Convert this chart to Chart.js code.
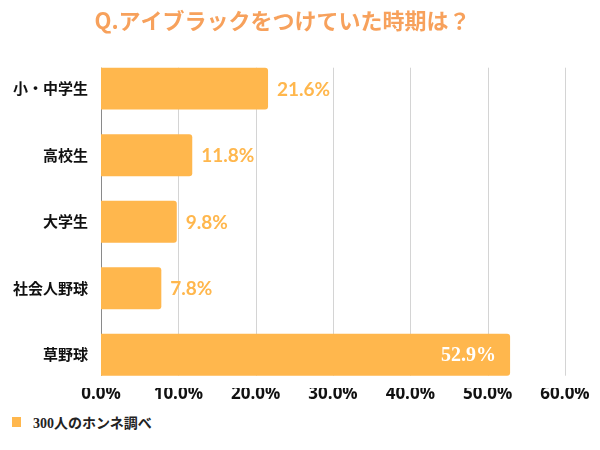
<!DOCTYPE html>
<html>
<head>
<meta charset="utf-8">
<script src="https://cdn.jsdelivr.net/npm/chart.js@4"></script>
<style>
  body { margin: 0; background: #fff; }
  #wrap { position: relative; width: 600px; height: 450px; }
  #note {
    position: absolute; left: 12px; top: 412px;
    font: bold 14px "Liberation Serif", "Noto Sans CJK JP", serif; color: #222;
    display: flex; align-items: center;
  }
  #note .icon { width: 9px; height: 10px; background: #ffb74d; margin-right: 12px; }
</style>
</head>
<body>
<div id="wrap">
  <canvas id="barChart" width="600" height="410"></canvas>
  <div id="note"><span class="icon"></span>300人のホンネ調べ</div>
</div>
<script>
const categories = ["小・中学生", "高校生", "大学生", "社会人野球", "草野球"];
const percents = [21.6, 11.8, 9.8, 7.8, 52.9];
const tickValues = [0, 10, 20, 30, 40, 50, 60];

const barColor = "#ffb74d";
const ctx = document.getElementById("barChart").getContext("2d");

// vertical grid lines only between the top of the first bar and the bottom of the last one
const shortGrid = {
    id: "shortGrid",
    beforeDatasetsDraw(chart) {
        const c = chart.ctx;
        const bars = chart.getDatasetMeta(0).data;
        const top = bars[0].y - bars[0].height / 2;
        const bottom = bars[bars.length - 1].y + bars[bars.length - 1].height / 2;
        const xs = chart.scales.x;
        c.save();
        c.lineWidth = 1;
        tickValues.forEach(v => {
            const px = Math.round(xs.getPixelForValue(v)) + 0.5;
            c.strokeStyle = v === 0 ? "#8a8a8a" : "#d4d4d4";
            c.beginPath();
            c.moveTo(px, top);
            c.lineTo(px, bottom);
            c.stroke();
        });
        c.restore();
    }
};

// draws the percent text next to (or inside) each bar
const valueLabels = {
    id: "valueLabels",
    afterDatasetsDraw(chart) {
        const c = chart.ctx;
        const meta = chart.getDatasetMeta(0);
        meta.data.forEach((bar, i) => {
            const text = percents[i].toFixed(1) + "%";
            c.save();
            c.textBaseline = "middle";
            if (percents[i] > 40) {
                c.font = "bold 20px 'Liberation Serif', serif";
                c.fillStyle = "#ffffff";
                c.textAlign = "right";
                c.fillText(text, bar.x - 14, bar.y + 1);
            } else {
                c.font = "bold 19px Lato, sans-serif";
                c.fillStyle = barColor;
                c.textAlign = "left";
                c.fillText(text, bar.x + 9, bar.y + 1);
            }
            c.restore();
        });
    }
};

new Chart(ctx, {
    type: "bar",
    data: {
        labels: categories,
        datasets: [{
            data: percents,
            backgroundColor: barColor,
            borderRadius: 3,
            borderSkipped: "start",
            categoryPercentage: 0.63,
            barPercentage: 1.0
        }]
    },
    options: {
        indexAxis: "y",
        responsive: false,
        animation: false,
        layout: { padding: { left: 0, right: 35, top: 0, bottom: 6 } },
        plugins: {
            legend: { display: false },
            tooltip: { enabled: false },
            title: {
                display: true,
                text: "Q.アイブラックをつけていた時期は？",
                color: "#f7a15c",
                font: { family: "'Noto Sans CJK JP', sans-serif", size: 22, weight: "bold" },
                padding: { top: 7, bottom: 22 }
            }
        },
        scales: {
            x: {
                min: 0,
                max: 60,
                afterBuildTicks: axis => { axis.ticks = tickValues.map(v => ({ value: v })); },
                ticks: {
                    callback: v => v.toFixed(1) + "%",
                    color: "#111",
                    font: { family: "'Open Sans', sans-serif", size: 17, weight: "bold" },
                    padding: -4
                },
                grid: { display: false, drawTicks: false },
                border: { display: false }
            },
            y: {
                afterFit: axis => { axis.width = 101; },
                ticks: {
                    color: "#111",
                    font: { family: "'Noto Sans CJK JP', sans-serif", size: 15, weight: "bold" },
                    padding: 13
                },
                grid: { display: false, drawTicks: false },
                border: { display: false }
            }
        }
    },
    plugins: [shortGrid, valueLabels]
});
</script>
</body>
</html>
